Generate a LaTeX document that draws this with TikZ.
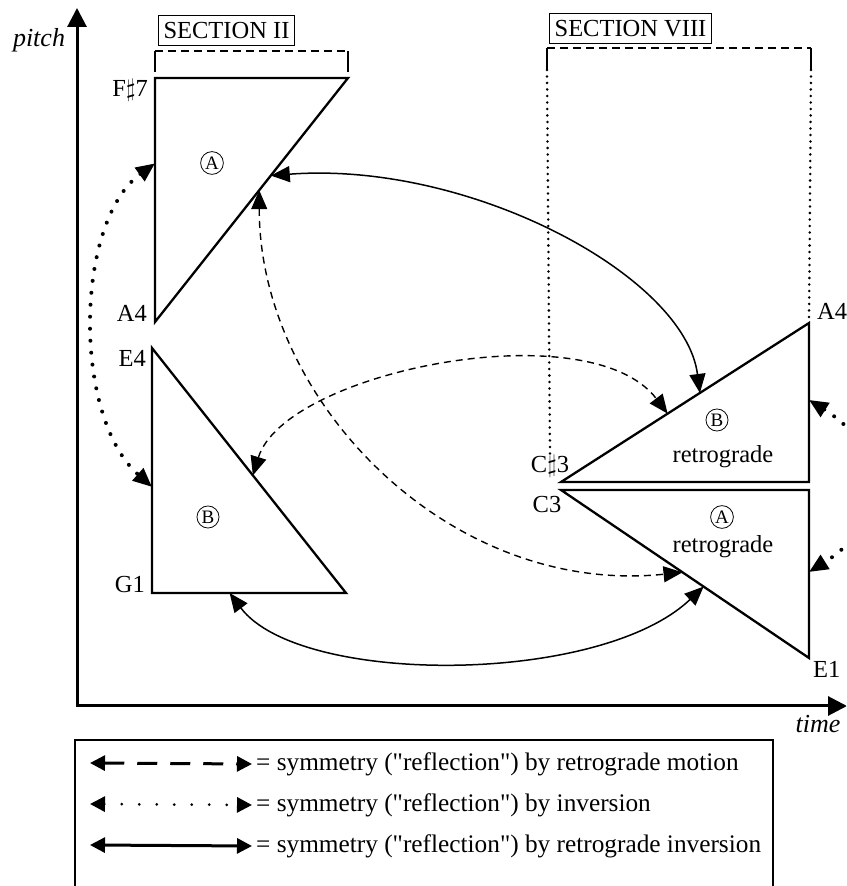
\documentclass[tikz,border=0pt]{standalone}
\usepackage{fontspec}
\setmainfont{Liberation Serif}[Ligatures=TeXOff]
\usetikzlibrary{calc,arrows.meta,positioning}

\begin{document}
\begin{tikzpicture}[x=1pt,y=1pt,
  font=\fontsize{24.5}{29}\selectfont,
  >={Triangle[length=19pt,width=16pt]},
  axis/.style={line width=3pt,line join=miter,{Triangle[length=19pt,width=19pt]}-{Triangle[length=19pt,width=19pt]}},
  tri/.style={line width=2.3pt,line join=miter},
  lbl/.style={inner sep=0pt},
  circ/.style={draw,circle,line width=0.8pt,inner sep=1.5pt,font=\fontsize{19}{19}\selectfont},
  sect/.style={draw,line width=1.2pt,inner xsep=5pt,inner ysep=7pt},
  brk/.style={line width=1.6pt,dash pattern=on 8pt off 5pt},
  guide/.style={line width=2.8pt,line cap=round,dash pattern=on 0pt off 6.5pt},
  retr/.style={<->,line width=1.4pt,dash pattern=on 7pt off 5pt},
  inv/.style={<->,line width=4pt,line cap=round,dash pattern=on 0pt off 12pt},
  rinv/.style={<->,line width=1.5pt},
  ltip/.style={{Triangle[length=15pt,width=15pt]}-{Triangle[length=15pt,width=15pt]}},
  lretr/.style={ltip,line width=3pt,dash pattern=on 20pt off 13pt},
  linv/.style={ltip,line width=3pt,line cap=round,dash pattern=on 0pt off 17.5pt},
  lrinv/.style={ltip,line width=3pt}]

\useasboundingbox (0,0) rectangle (846,886);
\clip (0,0) rectangle (846,886);

\coordinate (O) at (77,180);
\coordinate (ytop) at (77,878);
\coordinate (xend) at (847,180);
\draw[axis] (ytop) -- (O) -- (xend);
\node[lbl,anchor=base] (pitch) at (39,839) {\fontsize{26}{30}\selectfont\itshape pitch};
\node[lbl,anchor=base] (time) at (818,153) {\fontsize{26}{30}\selectfont\itshape time};

\foreach \n/\p in {A1/{155,808},A2/{348,808},A3/{155,564},
                   B1/{152,538},B2/{152,293},B3/{346,293},
                   C1/{561,404},C2/{809,563},C3/{809,404},
                   D1/{561,396},D2/{809,396},D3/{809,228}}
  \coordinate (\n) at (\p);
\foreach \t in {A,B,C,D}
  \draw[tri] (\t1) -- (\t2) -- (\t3) -- cycle;

\node[lbl,anchor=base east] (lF) at (148,789) {F$\sharp$7};
\node[lbl,anchor=base east] (lA) at (147,564) {A4};
\node[lbl,anchor=base east] (lE) at (146,519) {E4};
\node[lbl,anchor=base east] (lG) at (145,293) {G1};
\node[lbl,anchor=base west] (lAr) at (817,566) {A4};
\node[lbl,anchor=base] (lCs) at (550,413) {C$\sharp$3};
\node[lbl,anchor=base] (lC) at (547,373) {C3};
\node[lbl,anchor=base west] (lEr) at (813,208) {E1};

\node[circ] (cA) at (212,723) {A};
\node[circ] (cB) at (208,369) {B};
\node[circ] (cBr) at (717,466) {B};
\node (rB) at (723,429) {retrograde};
\node[circ] (cAr) at (722,369) {A};
\node (rA) at (723,339) {retrograde};

\node[sect] (s2) at (226.5,855.5) {SECTION II};
\node[sect] (s8) at (630.5,857.5) {SECTION VIII};
\draw[line width=2pt] (155,814) -- (155,835) (348,835) -- (348,814);
\draw[brk] (155,835) -- (348,835);
\draw[line width=2pt] (547,816) -- (547,838) (811,838) -- (811,816);
\draw[brk] (547,838) -- (811,838);
\draw[guide] (547,816) -- (lCs.north);
\draw[guide] (811,816) -- (C2);

\coordinate (ri1) at ($(A2)!.4!(A3)$);
\coordinate (ri2) at ($(C1)!.56!(C2)$);
\coordinate (ri3) at ($(B2)!.4!(B3)$);
\coordinate (ri4) at ($(D1)!.575!(D3)$);
\coordinate (rm1) at ($(A2)!.46!(A3)$);
\coordinate (rm2) at ($(D1)!.49!(D3)$);
\coordinate (rm3) at ($(B1)!.52!(B3)$);
\coordinate (rm4) at ($(C1)!.43!(C2)$);
\coordinate (in1) at ($(A1)!.35!(A3)$);
\coordinate (in2) at ($(B1)!.567!(B2)$);
\coordinate (in3) at ($(C2)!.484!(C3)$);
\coordinate (in4) at ($(D2)!.488!(D3)$);

\draw[rinv] (ri1) .. controls +(199,15) and +(-15,117) .. (ri2);
\draw[rinv] (ri3) .. controls +(70,-93) and +(-104,-99) .. (ri4);
\draw[retr] (rm1) .. controls +(0,-211) and +(-233,-24) .. (rm2);
\draw[retr] (rm3) .. controls +(32,104) and +(-78,103) .. (rm4);
\draw[inv] (in1) .. controls +(-80,-58) and +(-80,71) .. (in2);
\draw[inv] (in3) .. controls +(80,-50) and +(80,50) .. (in4);

\draw[line width=1.8pt] (75,-10) rectangle (773,146);
\def\legend{1/lretr/{retrograde motion},2/linv/{inversion},3/lrinv/{retrograde inversion}}
\foreach \i / \sty / \txt in \legend {
  \coordinate (la\i) at (90,164-41*\i);
  \node[anchor=west,inner sep=4pt,font=\fontsize{25.3}{30}\selectfont] (lt\i) at (252,163-41*\i)
    {= symmetry ("reflection") by \txt};
  \draw[\sty] (la\i) -- (lt\i.west);
}

\end{tikzpicture}
\end{document}
